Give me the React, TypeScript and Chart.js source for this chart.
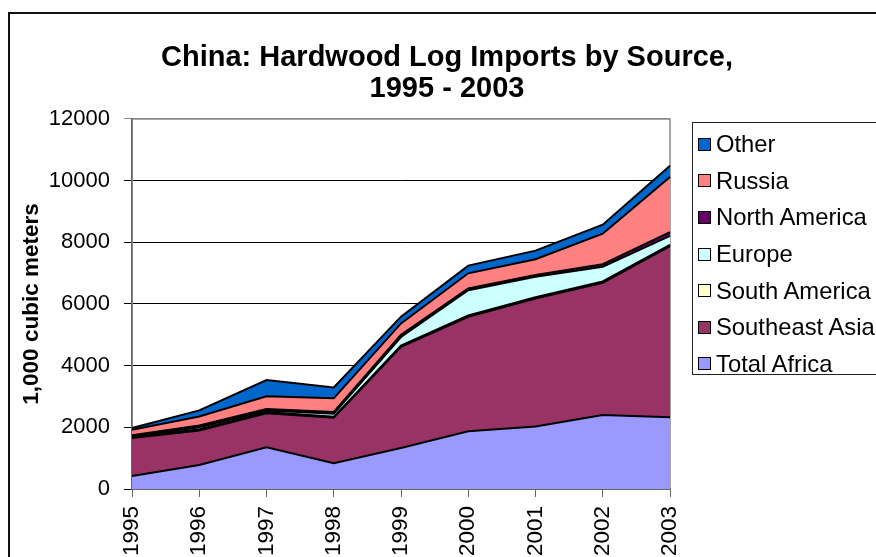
import React, { useEffect, useRef } from "react";
import { Chart, registerables } from "chart.js";

Chart.register(...registerables);

const categories = ["1995", "1996", "1997", "1998", "1999", "2000", "2001", "2002", "2003"];
const totalAfrica = [420, 780, 1355, 835, 1330, 1875, 2030, 2400, 2330];
const southeastAsia = [1230, 1120, 1100, 1475, 3280, 3710, 4150, 4290, 5550];
const southAmerica = [30, 40, 40, 30, 40, 40, 40, 40, 40];
const europe = [20, 60, 50, 100, 280, 820, 660, 480, 290];
const northAmerica = [40, 60, 50, 60, 70, 60, 60, 80, 120];
const russia = [180, 290, 410, 440, 370, 490, 510, 990, 1790];
const other = [60, 200, 530, 350, 220, 250, 280, 290, 360];
const yTicks = [0, 2000, 4000, 6000, 8000, 10000, 12000];

const seriesNames = ["Total Africa", "Southeast Asia", "South America", "Europe", "North America", "Russia", "Other"];
const seriesColors = ["#9999FF", "#993366", "#FFFFCC", "#CCFFFF", "#660066", "#FF8080", "#0066CC"];
const seriesData = [totalAfrica, southeastAsia, southAmerica, europe, northAmerica, russia, other];

const FONT = '"Liberation Sans", Arial, sans-serif';

const plotBorder = {
  id: "plotBorder",
  beforeDatasetsDraw(chart: any) {
    const { ctx, chartArea } = chart;
    ctx.save();
    ctx.strokeStyle = "#888888";
    ctx.lineWidth = 1.5;
    ctx.strokeRect(chartArea.left, chartArea.top, chartArea.right - chartArea.left, chartArea.bottom - chartArea.top);
    ctx.restore();
  },
};

export default function App() {
  const ref = useRef<HTMLCanvasElement | null>(null);

  useEffect(() => {
    if (!ref.current) return;
    const chart = new Chart(ref.current, {
      type: "line",
      data: {
        labels: categories,
        datasets: seriesNames.map((name, i) => ({
          label: name,
          data: seriesData[i],
          backgroundColor: seriesColors[i],
          borderColor: "#000000",
          borderWidth: 2,
          pointRadius: 0,
          tension: 0,
          fill: i === 0 ? "origin" : "-1",
        })),
      },
      options: {
        animation: false,
        responsive: false,
        maintainAspectRatio: false,
        layout: { padding: { left: 0, right: 0, top: 8, bottom: 0 } },
        plugins: {
          legend: { display: false },
          tooltip: { enabled: false },
          title: {
            display: true,
            text: ["China: Hardwood Log Imports by Source,", "1995 - 2003"],
            color: "#000",
            font: { family: FONT, size: 29, weight: "bold", lineHeight: 1.086 },
            padding: { top: 34, bottom: 14 },
          },
        },
        scales: {
          x: {
            type: "category",
            offset: false,
            grid: { drawOnChartArea: false, drawTicks: true, tickLength: 8, color: "#666" },
            border: { color: "#000", width: 1.5 },
            ticks: { minRotation: 90, maxRotation: 90, color: "#000", font: { family: FONT, size: 22.5 }, padding: 9, autoSkip: false },
            afterFit: (s: any) => { s.height = 68; },
          },
          y: {
            stacked: true,
            min: 0,
            max: 12000,
            afterBuildTicks: (s: any) => { s.ticks = yTicks.map((v) => ({ value: v })); },
            grid: {
              color: (c: any) => (c.tick && c.tick.value === 12000 ? "#888" : "#000"),
              tickLength: 8,
              lineWidth: 1,
            },
            border: { color: "#000", width: 1.5 },
            ticks: { color: "#000", font: { family: FONT, size: 22 }, padding: 14, callback: (v: any) => String(v) },
            title: {
              display: true,
              text: "1,000 cubic meters",
              color: "#000",
              font: { family: FONT, size: 22.5, weight: "bold", lineHeight: 1.2 },
              padding: { top: 18, bottom: 0 },
            },
            afterFit: (s: any) => { s.width = 132; },
          },
          yRight: {
            position: "right",
            display: true,
            grid: { display: false, drawTicks: false },
            border: { display: false },
            ticks: { display: false },
            afterFit: (s: any) => { s.width = 224; },
          },
        },
      },
      plugins: [plotBorder],
    });
    return () => chart.destroy();
  }, []);

  const legendOrder = [6, 5, 4, 3, 2, 1, 0];

  return (
    <div style={{ position: "fixed", left: 0, top: 0, width: 876, height: 557, overflow: "hidden", background: "#fff" }}>
      <div style={{ position: "absolute", left: 8, top: 12, width: 1000, height: 1000, border: "2px solid #111" }} />
      <canvas ref={ref} width={894} height={557} style={{ position: "absolute", left: 0, top: 0, width: 894, height: 557 }} />
      <div
        style={{
          position: "absolute",
          left: 692,
          top: 122,
          width: 220,
          height: 253,
          border: "1.5px solid #222",
          background: "#fff",
          boxSizing: "border-box",
          paddingTop: 3,
          paddingLeft: 5,
          fontFamily: FONT,
          fontSize: 23.8,
          color: "#000",
        }}
      >
        {legendOrder.map((i) => (
          <div key={i} style={{ height: 36.6, display: "flex", alignItems: "center", whiteSpace: "nowrap" }}>
            <span
              style={{
                display: "inline-block",
                width: 11,
                height: 11,
                border: "1px solid #000",
                background: seriesColors[i],
                marginRight: 5,
                flex: "none",
              }}
            />
            <span>{seriesNames[i]}</span>
          </div>
        ))}
      </div>
    </div>
  );
}
